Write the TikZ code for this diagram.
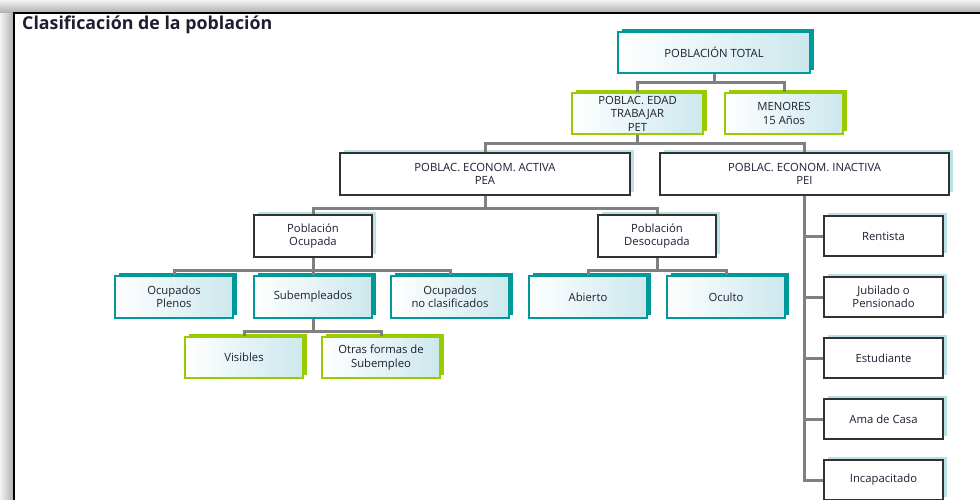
\documentclass[tikz,border=0pt]{standalone}
\usepackage{fontspec}
\setmainfont{Open Sans}
\usetikzlibrary{shadows}

\definecolor{tealc}{RGB}{0,153,153}
\definecolor{greenc}{RGB}{153,204,0}
\definecolor{shcyan}{RGB}{185,226,231}
\definecolor{fillc}{RGB}{204,232,237}
\definecolor{connc}{RGB}{128,128,128}
\definecolor{txtc}{RGB}{30,30,50}

\begin{document}
\begin{tikzpicture} [x=1pt, y=-1pt,
  basebox/.style={line width=1.2pt, minimum width=118pt, minimum height=41pt, inner sep=0pt, align=center, text=txtc, font=\fontsize{11.3}{13.5}\selectfont},
  plainbox/.style={basebox, draw={rgb,255:red,50;green,50;blue,50}, fill=white, drop shadow={shadow xshift=4pt, shadow yshift=3pt, fill=shcyan, opacity=1}},
  tealbox/.style={basebox, draw=tealc, left color=white, right color=fillc, drop shadow={shadow xshift=4pt, shadow yshift=3pt, fill=tealc, opacity=1}},
  greenbox/.style={basebox, draw=greenc, left color=white, right color=fillc, drop shadow={shadow xshift=4pt, shadow yshift=3pt, fill=greenc, opacity=1}},
  conn/.style={draw=connc, line width=3pt}]
\useasboundingbox (0,0) rectangle (980,499);

% frame with soft shadow
\shade[top color=white!95!black, bottom color=black!32] (0,0) rectangle (980,13);
\shade[left color=white!95!black, right color=black!32] (0,13) rectangle (14,499);
\draw[line width=1.6pt] (14,500) |- (981,13);
\node[anchor=base west, inner sep=0pt, text=txtc, font=\fontsize{17.8}{22}\bfseries] (title) at (22,29) {Clasificación de la población};

% top levels
\node[tealbox, minimum width=192pt] (total) at (714,52.5) {POBLACIÓN TOTAL};
\node[greenbox, minimum width=131pt] (pet) at (637.5,113.5) {POBLAC. EDAD\\TRABAJAR\\PET};
\node[greenbox] (menores) at (784,113.5) {MENORES\\15 Años};
\node[plainbox, minimum width=290pt, minimum height=42pt] (pea) at (485,174) {POBLAC. ECONOM. ACTIVA\\PEA};
\node[plainbox, minimum width=289pt, minimum height=42pt] (pei) at (804.5,174) {POBLAC. ECONOM. INACTIVA\\PEI};

% PEA branch
\node[plainbox, minimum height=42pt] (ocupada) at (313,236) {Población\\Ocupada};
\node[plainbox, minimum height=42pt] (desocupada) at (657,236) {Población\\Desocupada};
\node[tealbox, minimum height=42pt] (plenos) at (174,297) {Ocupados\\Plenos};
\node[tealbox, minimum height=42pt] (subemp) at (313,297) {Subempleados};
\node[tealbox, minimum height=42pt] (noclas) at (450,297) {Ocupados\\no clasificados};
\node[tealbox, minimum height=42pt] (abierto) at (588,297) {Abierto};
\node[tealbox, minimum height=42pt] (oculto) at (726,297) {Oculto};
\node[greenbox] (visibles) at (244,357.5) {Visibles};
\node[greenbox] (otras) at (381,357.5) {Otras formas de\\Subempleo};

% PEI branch
\foreach \t [count=\i] in {Rentista, {Jubilado o\\Pensionado}, Estudiante, Ama de Casa, Incapacitado}
  \node[plainbox, minimum width=119pt, minimum height=40pt] (r\i) at (883.5,175+61*\i) {\t};

% connectors
\draw[conn] (total.south) -- ++(0,9) coordinate (b1);
\draw[conn] (pet.north) |- (b1) -| (menores.north);
\draw[conn] (pet.south) -- ++(0,9) coordinate (b2);
\draw[conn] (pea.north) |- (b2) -| (pei.north);
\draw[conn] (pea.south) -- ++(0,12.5) coordinate (b3);
\draw[conn] (ocupada.north) |- (b3) -| (desocupada.north);
\draw[conn] (ocupada.south) -- ++(0,12.5) coordinate (b4);
\draw[conn] (plenos.north) |- (b4) -| (noclas.north);
\draw[conn] (subemp.north) -- (b4);
\draw[conn] (desocupada.south) -- ++(0,12.5) coordinate (b5);
\draw[conn] (abierto.north) |- (b5) -| (oculto.north);
\draw[conn] (subemp.south) -- ++(0,13) coordinate (b6);
\draw[conn] (visibles.north) |- (b6) -| (otras.north);
\foreach \i in {1,...,5} \draw[conn] (pei.south) |- (r\i.west);

\end{tikzpicture}
\end{document}
